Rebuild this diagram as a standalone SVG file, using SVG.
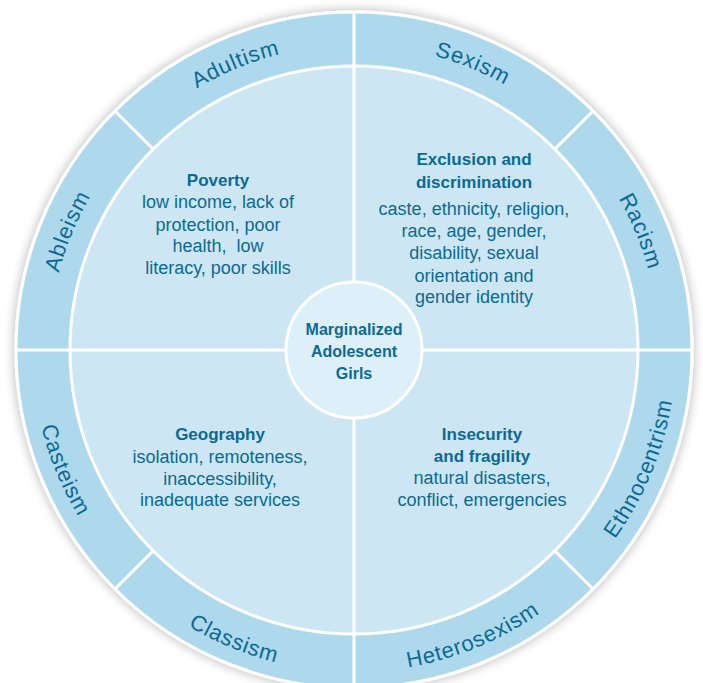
<svg xmlns="http://www.w3.org/2000/svg" xmlns:xlink="http://www.w3.org/1999/xlink" width="703" height="683" viewBox="0 0 703 683">
<style>
.ring{fill:#aed8ec;stroke:#fff;stroke-width:3}
.quad{fill:#cde6f3;stroke:#fff;stroke-width:3}
.hub{fill:#ddeff8;stroke:#fff;stroke-width:3}
.div{stroke:#fff;stroke-width:3;fill:none}
.lbl{font-family:"Liberation Sans",Arial,sans-serif;font-size:22px;fill:#0a6a95;letter-spacing:0.8px}
.h{font-family:"Liberation Sans",Arial,sans-serif;font-size:17px;font-weight:bold;fill:#0a6a95;text-anchor:middle}
.b{font-family:"Liberation Sans",Arial,sans-serif;font-size:18px;fill:#0a6a95;text-anchor:middle}
.c{font-family:"Liberation Sans",Arial,sans-serif;font-size:16px;font-weight:bold;fill:#0a6a95;text-anchor:middle}
</style>
<defs>
<filter id="sh" x="-10%" y="-10%" width="120%" height="120%">
<feGaussianBlur in="SourceAlpha" stdDeviation="6"/>
<feComponentTransfer><feFuncA type="linear" slope="0.3"/></feComponentTransfer>
<feMerge><feMergeNode/><feMergeNode in="SourceGraphic"/></feMerge>
</filter>
<path id="pAbleism" d="M49,350 A305,305 0 0 1 138.33,134.33"/>
<path id="pAdultism" d="M138.33,134.33 A305,305 0 0 1 354,45"/>
<path id="pSexism" d="M354,45 A305,305 0 0 1 569.67,134.33"/>
<path id="pRacism" d="M569.67,134.33 A305,305 0 0 1 659,350"/>
<path id="pCasteism" d="M32,350 A322,322 0 0 0 126.31,577.69"/>
<path id="pClassism" d="M126.31,577.69 A322,322 0 0 0 354,672"/>
<path id="pHetero" d="M354,672 A322,322 0 0 0 581.69,577.69"/>
<path id="pEthno" d="M581.69,577.69 A322,322 0 0 0 676,350"/>
</defs>
<g id="wheel">
<circle class="ring" cx="354" cy="350" r="338" filter="url(#sh)"/>
<circle class="quad" cx="354" cy="350" r="284"/>
</g>
<g id="dividers">
<line class="div" x1="354" y1="12" x2="354" y2="688"/>
<line class="div" x1="16" y1="350" x2="692" y2="350"/>
<line class="div" x1="153.18" y1="149.18" x2="115" y2="111"/>
<line class="div" x1="554.82" y1="149.18" x2="593" y2="111"/>
<line class="div" x1="153.18" y1="550.82" x2="115" y2="589"/>
<line class="div" x1="554.82" y1="550.82" x2="593" y2="589"/>
</g>
<g id="ring-labels">
<g id="ableism"><text class="lbl"><textPath xlink:href="#pAbleism" href="#pAbleism" startOffset="50%" text-anchor="middle">Ableism</textPath></text></g>
<g id="adultism"><text class="lbl"><textPath xlink:href="#pAdultism" href="#pAdultism" startOffset="50%" text-anchor="middle">Adultism</textPath></text></g>
<g id="sexism"><text class="lbl"><textPath xlink:href="#pSexism" href="#pSexism" startOffset="50%" text-anchor="middle">Sexism</textPath></text></g>
<g id="racism"><text class="lbl"><textPath xlink:href="#pRacism" href="#pRacism" startOffset="50%" text-anchor="middle">Racism</textPath></text></g>
<g id="casteism"><text class="lbl"><textPath xlink:href="#pCasteism" href="#pCasteism" startOffset="50%" text-anchor="middle">Casteism</textPath></text></g>
<g id="classism"><text class="lbl"><textPath xlink:href="#pClassism" href="#pClassism" startOffset="50%" text-anchor="middle">Classism</textPath></text></g>
<g id="heterosexism"><text class="lbl"><textPath xlink:href="#pHetero" href="#pHetero" startOffset="50%" text-anchor="middle">Heterosexism</textPath></text></g>
<g id="ethnocentrism"><text class="lbl"><textPath xlink:href="#pEthno" href="#pEthno" startOffset="50%" text-anchor="middle">Ethnocentrism</textPath></text></g>
</g>
<g id="poverty">
<text class="h" x="218" y="186">Poverty</text>
<text class="b" xml:space="preserve" style="white-space:pre"><tspan x="218" y="208">low income, lack of</tspan><tspan x="218" y="231">protection, poor</tspan><tspan x="218" y="252">health,  low</tspan><tspan x="218" y="274">literacy, poor skills</tspan></text>
</g>
<g id="exclusion">
<text class="h"><tspan x="474" y="165">Exclusion and</tspan><tspan x="474" y="188">discrimination</tspan></text>
<text class="b"><tspan x="474" y="215">caste, ethnicity, religion,</tspan><tspan x="474" y="237">race, age, gender,</tspan><tspan x="474" y="259">disability, sexual</tspan><tspan x="474" y="282">orientation and</tspan><tspan x="474" y="303">gender identity</tspan></text>
</g>
<g id="geography">
<text class="h" x="220" y="440">Geography</text>
<text class="b"><tspan x="220" y="463">isolation, remoteness,</tspan><tspan x="220" y="485">inaccessibility,</tspan><tspan x="220" y="506">inadequate services</tspan></text>
</g>
<g id="insecurity">
<text class="h"><tspan x="482" y="440">Insecurity</tspan><tspan x="482" y="462">and fragility</tspan></text>
<text class="b"><tspan x="482" y="484">natural disasters,</tspan><tspan x="482" y="506">conflict, emergencies</tspan></text>
</g>
<g id="center">
<circle class="hub" cx="354" cy="350" r="68"/>
<text class="c"><tspan x="354" y="335">Marginalized</tspan><tspan x="354" y="357">Adolescent</tspan><tspan x="354" y="379">Girls</tspan></text>
</g>
</svg>
